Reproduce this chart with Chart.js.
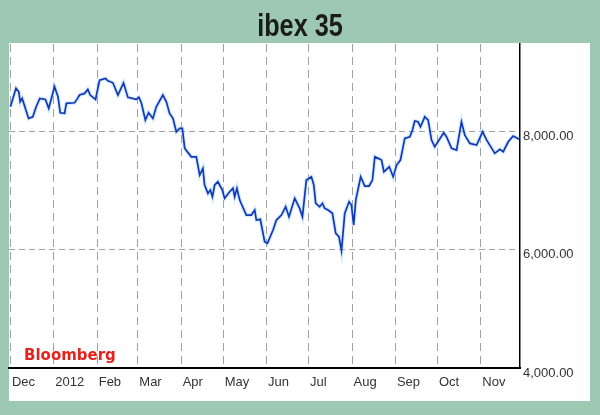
<!DOCTYPE html>
<html>
<head>
<meta charset="utf-8">
<script src="https://cdn.jsdelivr.net/npm/chart.js@4.4.0/dist/chart.umd.min.js"></script>
<style>
  html, body { margin: 0; padding: 0; background: #9cc8b4; }
  #wrap { width: 600px; height: 415px; }
</style>
</head>
<body>
<div id="wrap"><canvas id="ibexChart" width="600" height="415"></canvas></div>
<script>
// ===== Data =====
// x = days since 1 Dec 2011, month ticks at the first of each month
const monthTicks  = [0, 31, 62, 91, 122, 152, 183, 213, 244, 275, 305, 336];
const monthLabels = ["Dec", "2012", "Feb", "Mar", "Apr", "May", "Jun", "Jul", "Aug", "Sep", "Oct", "Nov"];
const valueTicks  = [4000, 6000, 8000];

const days = [
  0, 4, 6, 7, 8.4, 13, 16, 18.4, 21, 25, 27.4, 31.5, 34, 35.6, 38.7, 40, 45.8, 47.5, 49.4, 53,
  55.3, 57, 60.8, 63.7, 68, 69.6, 73.2, 76.8, 80.8, 83.9, 89.9, 91.8, 93.5, 96.4, 98.7, 101.8, 104.2, 108.9, 111.4, 113.7,
  116.1, 118.5, 120.9, 122.8, 124.5, 129.2, 132.8, 135.2, 137.5, 138.7, 141.1, 142.8, 144.3, 145.9, 148.2, 151.4, 153, 156.6, 159, 160.2,
  161.8, 163.8, 168.5, 172.1, 174.5, 175.7, 178.5, 181.6, 183.6, 187.6, 190, 193.6, 196.6, 199, 203.1, 206.6, 208.6, 211.4, 215, 216.7,
  218.1, 220.9, 222.9, 224.5, 226.9, 230, 232.4, 234.7, 236.5, 238.8, 241.9, 243.6, 245.2, 246.7, 250.2, 253.1, 256.2, 258.6, 260.3, 262.7,
  265.1, 266.8, 270.6, 273.4, 275.9, 278.6, 281.7, 285.3, 287.2, 288.8, 291.2, 292.9, 296, 298.4, 300.8, 303.1, 306.2, 309.5, 311.5, 315.1,
  318.7, 322.2, 324.6, 328.2, 333, 337.3, 340.2, 346, 349.6, 352, 355.6, 359.1, 363.4
];
const closes = [
  8410, 8721, 8663, 8495, 8552, 8214, 8241, 8410, 8552, 8535, 8383, 8748, 8579, 8309, 8299, 8468, 8478, 8535, 8608, 8636,
  8704, 8608, 8535, 8861, 8889, 8849, 8815, 8608, 8815, 8569, 8535, 8569, 8478, 8186, 8309, 8214, 8410, 8608, 8495, 8299,
  8214, 7988, 8046, 8046, 7708, 7566, 7566, 7257, 7370, 7089, 6948, 7004, 6891, 7089, 7144, 7004, 6864, 6976, 7033, 6891,
  7033, 6835, 6582, 6582, 6667, 6498, 6510, 6132, 6105, 6329, 6498, 6582, 6722, 6554, 6864, 6695, 6554, 7173, 7229, 7089,
  6780, 6722, 6780, 6695, 6667, 6611, 6273, 6216, 5980, 6611, 6807, 6751, 6413, 6835, 7229, 7072, 7072, 7173, 7566, 7539,
  7511, 7313, 7397, 7229, 7426, 7511, 7877, 7904, 8017, 8169, 8157, 8073, 8241, 8186, 7848, 7735, 7848, 7971, 7904, 7708,
  7679, 8157, 7932, 7792, 7764, 7988, 7848, 7624, 7691, 7651, 7819, 7916, 7860
];

const points = days.map((d, i) => ({ x: d, y: closes[i] }));

// ===== Look =====
const BG_GREEN = "#9cc8b4";
const GRID_GRAY = "#a0a0a0";
const TICK_FONT = "'Liberation Sans', Arial, sans-serif";

// green backdrop + white panel, squeezed heading, source tag
const panelBg = {
  id: "panelBg",
  beforeDraw(chart) {
    const { ctx, chartArea: a } = chart;
    ctx.save();
    ctx.fillStyle = BG_GREEN;
    ctx.fillRect(0, 0, chart.width, chart.height);
    ctx.fillStyle = "#ffffff";
    ctx.fillRect(a.left, a.top - 1, a.right - a.left + 70, a.bottom - a.top + 34);

    // heading, condensed like the original
    ctx.fillStyle = "#1b1b1b";
    ctx.font = "bold 32px 'Liberation Sans', Arial, sans-serif";
    ctx.textAlign = "center";
    ctx.textBaseline = "alphabetic";
    ctx.translate(chart.width / 2, 36);
    ctx.scale(0.79, 1);
    ctx.fillText("ibex 35", 0, 0);
    ctx.restore();
  },
  afterDatasetsDraw(chart) {
    const { ctx, chartArea: a } = chart;
    ctx.save();
    ctx.fillStyle = "#e5231d";
    ctx.font = "bold 15px 'DejaVu Sans', sans-serif";
    ctx.textBaseline = "alphabetic";
    ctx.fillText("Bloomberg", a.left + 15, a.bottom - 8);
    ctx.restore();
  }
};

const chart = new Chart(document.getElementById("ibexChart").getContext("2d"), {
  type: "line",
  data: {
    datasets: [
      {
        label: "ibex 35",
        data: points,
        borderColor: "#1238b4",
        borderWidth: 1.7,
        pointRadius: 0,
        tension: 0,
        order: 1
      },
      {
        label: "halo",
        data: points,
        borderColor: "rgba(130,195,255,0.35)",
        borderWidth: 4,
        pointRadius: 0,
        tension: 0,
        order: 2
      }
    ]
  },
  options: {
    responsive: false,
    animation: false,
    devicePixelRatio: 1,
    layout: { padding: { left: 9, right: 10, top: 44, bottom: 14 } },
    plugins: {
      legend: { display: false },
      tooltip: { enabled: false },
      title: { display: false }
    },
    scales: {
      x: {
        type: "linear",
        min: -1,
        max: 364,
        afterBuildTicks: (s) => { s.ticks = monthTicks.map(v => ({ value: v })); },
        afterFit: (s) => { s.height = 33; },
        ticks: {
          autoSkip: false,
          maxRotation: 0,
          align: "start",
          labelOffset: 1.5,
          padding: 7,
          color: "#333",
          font: { family: TICK_FONT, size: 13 },
          callback: (v) => monthLabels[monthTicks.indexOf(v)] ?? ""
        },
        grid: { color: GRID_GRAY, lineWidth: 1, drawTicks: false },
        border: { display: true, color: "#000", width: 2, dash: [8, 5] }
      },
      y: {
        position: "right",
        min: 4000,
        max: 9470,
        afterBuildTicks: (s) => { s.ticks = valueTicks.map(v => ({ value: v })); },
        afterFit: (s) => { s.width = 70; },
        ticks: {
          padding: 3,
          labelOffset: 5,
          color: "#333",
          font: { family: TICK_FONT, size: 13 },
          callback: (v) => v.toLocaleString("en-US", { minimumFractionDigits: 2, maximumFractionDigits: 2 })
        },
        grid: {
          color: (c) => (c.tick && c.tick.value === 4000 ? "rgba(0,0,0,0)" : GRID_GRAY),
          lineWidth: 1,
          drawTicks: false
        },
        border: { display: true, color: "#000", width: 1.5, dash: [6, 4] }
      }
    }
  },
  plugins: [panelBg]
});
</script>
</body>
</html>
